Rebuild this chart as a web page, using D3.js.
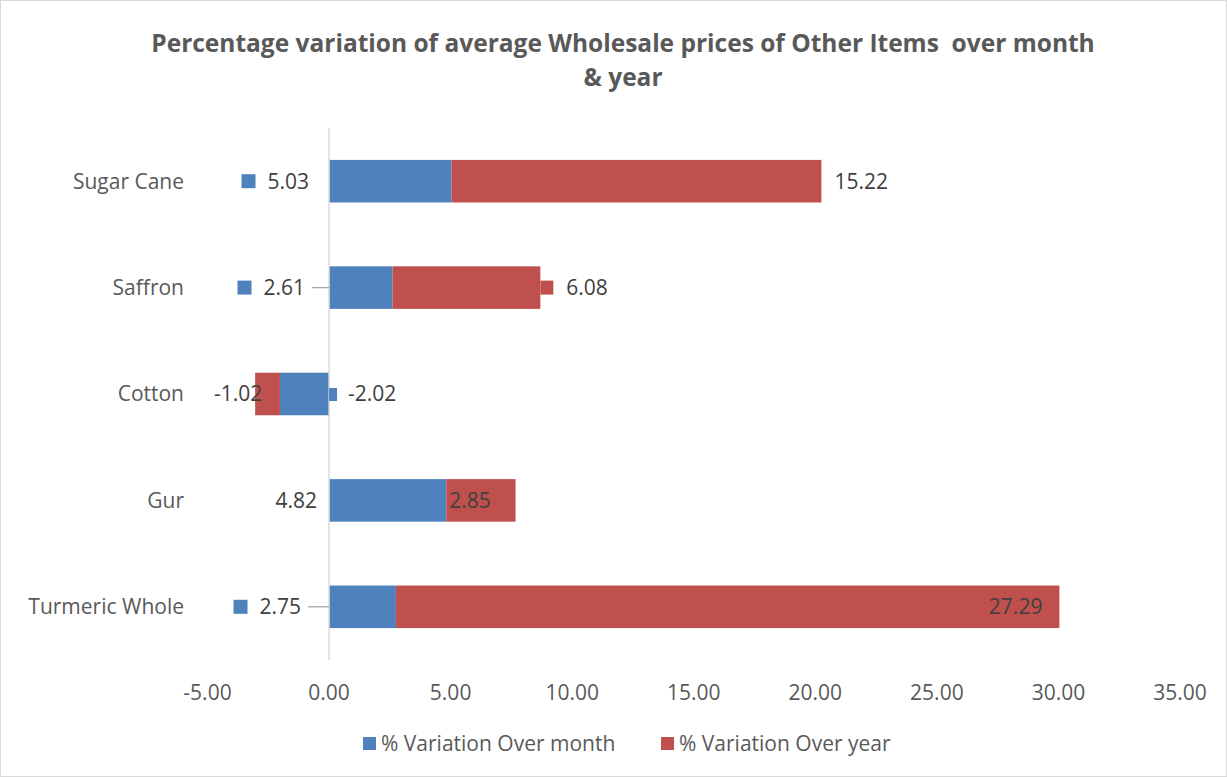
<!DOCTYPE html>
<html><head><meta charset="utf-8">
<script src="https://cdn.jsdelivr.net/npm/d3@7"></script>
<style>body{margin:0;background:#fff}svg{display:block}text{font-family:"Open Sans",sans-serif}</style>
</head><body><svg id="c" width="1227" height="777"></svg>
<script>
const categories = ["Sugar Cane","Saffron","Cotton","Gur","Turmeric Whole"];
const monthValues = [5.03, 2.61, -2.02, 4.82, 2.75];
const yearValues = [15.22, 6.08, -1.02, 2.85, 27.29];
const tickValues = [-5,0,5,10,15,20,25,30,35];
const seriesNames = ["% Variation Over month","% Variation Over year"];
const colors = ["#4f81bd","#c0504d"];

// label placement (Excel-style callouts), per category
const monthLabelCfg = [
  {side:"left", dx:-20, key:true, leader:false},
  {side:"left", dx:-24, key:true, leader:true},
  {side:"right", dx:0, key:true, leader:false},
  {side:"left", dx:-12, key:false, leader:false},
  {side:"left", dx:-28, key:true, leader:true}
];

const fmt = v => d3.format(".2f")(v).replace("\u2212","-");

const svg = d3.select("#c");
svg.append("rect").attr("x",0.5).attr("y",0.5).attr("width",1226).attr("height",776)
  .attr("fill","#fff").attr("stroke","#d9d9d9");

const x = d3.scaleLinear().domain([-5,35]).range([207.5,1180]);
const y = d3.scaleBand().domain(categories).range([128,660]).paddingInner(0.6).paddingOuter(0.3);

const TF=24.5, FS=21, LF=21;
svg.append("text").attr("x",623).attr("y",52).attr("text-anchor","middle")
  .attr("font-size",TF).attr("font-weight","bold").attr("fill","#595959")
  .style("white-space","pre")
  .text("Percentage variation of average Wholesale prices of Other Items  over month");
svg.append("text").attr("x",623).attr("y",86).attr("text-anchor","middle")
  .attr("font-size",TF).attr("font-weight","bold").attr("fill","#595959").text("& year");

const data = categories.map((c,i)=>({c,m:monthValues[i],yv:yearValues[i],i}));

// bars
data.forEach(d=>{
  const m0=0, m1=d.m, y0=d.m, y1=d.m+d.yv;
  svg.append("rect").attr("x",x(Math.min(m0,m1))).attr("width",Math.abs(x(m1)-x(m0)))
    .attr("y",y(d.c)).attr("height",y.bandwidth()).attr("fill",colors[0]);
  svg.append("rect").attr("x",x(Math.min(y0,y1))).attr("width",Math.abs(x(y1)-x(y0)))
    .attr("y",y(d.c)).attr("height",y.bandwidth()).attr("fill",colors[1]);
});

// vertical axis line
svg.append("line").attr("x1",x(0)).attr("x2",x(0)).attr("y1",128).attr("y2",660)
  .attr("stroke","#d9d9d9").attr("stroke-width",1.5);

// category labels
svg.selectAll(".cat").data(categories).join("text").attr("class","cat")
  .attr("x",184).attr("y",d=>y(d)+y.bandwidth()/2).attr("dy","0.35em")
  .attr("text-anchor","end").attr("font-size",FS).attr("fill","#595959").text(d=>d);

// x ticks
svg.selectAll(".tick").data(tickValues).join("text").attr("class","tick")
  .attr("x",d=>x(d)).attr("y",700).attr("text-anchor","middle")
  .attr("font-size",FS).attr("fill","#595959").text(d=>fmt(d));

const lblColor="#404040", fs=FS;
// month labels
data.forEach((d,i)=>{
  const cfg=monthLabelCfg[i]; const cy=y(d.c)+y.bandwidth()/2;
  const t=fmt(d.m);
  if(cfg.side==="left"){
    const tx=x(0)+cfg.dx;
    const te=svg.append("text").attr("x",tx).attr("y",cy).attr("dy","0.35em").attr("text-anchor","end")
      .attr("font-size",fs).attr("fill",lblColor).text(t);
    const w=te.node().getComputedTextLength();
    if(cfg.key) svg.append("rect").attr("x",tx-w-26).attr("y",cy-7).attr("width",14).attr("height",14).attr("fill",colors[0]);
    if(cfg.leader) svg.append("line").attr("x1",tx+7).attr("x2",x(0)).attr("y1",cy).attr("y2",cy).attr("stroke","#a6a6a6").attr("stroke-width",1.3);
  } else {
    svg.append("rect").attr("x",x(0)).attr("y",cy-6).attr("width",8).attr("height",13).attr("fill",colors[0]);
    svg.append("text").attr("x",x(0)+19).attr("y",cy).attr("dy","0.35em").attr("font-size",fs).attr("fill",lblColor).text(t);
  }
});

// year labels
data.forEach((d,i)=>{
  const cy=y(d.c)+y.bandwidth()/2; const t=fmt(d.yv);
  const end=x(d.m+d.yv), start=x(d.m);
  if(i===0){
    svg.append("text").attr("x",end+13).attr("y",cy).attr("dy","0.35em").attr("font-size",fs).attr("fill",lblColor).text(t);
  } else if(i===1){
    svg.append("rect").attr("x",end).attr("y",cy-7).attr("width",13).attr("height",14).attr("fill",colors[1]);
    svg.append("text").attr("x",end+26).attr("y",cy).attr("dy","0.35em").attr("font-size",fs).attr("fill",lblColor).text(t);
  } else if(i===2){
    svg.append("text").attr("x",end-17).attr("y",cy).attr("dy","0.35em").attr("text-anchor","middle").attr("font-size",fs).attr("fill",lblColor).text(t);
  } else if(i===3){
    svg.append("text").attr("x",start+3).attr("y",cy).attr("dy","0.35em").attr("font-size",fs).attr("fill",lblColor).text(t);
  } else {
    svg.append("text").attr("x",end-17).attr("y",cy).attr("dy","0.35em").attr("text-anchor","end").attr("font-size",fs).attr("fill",lblColor).text(t);
  }
});

// legend
const leg=[{x:363},{x:661}];
seriesNames.forEach((n,i)=>{
  svg.append("rect").attr("x",leg[i].x).attr("y",737).attr("width",13).attr("height",13).attr("fill",colors[i]);
  svg.append("text").attr("x",leg[i].x+18).attr("y",744).attr("dy","0.35em").attr("font-size",LF).attr("fill","#595959").text(n);
});
</script></body></html>
